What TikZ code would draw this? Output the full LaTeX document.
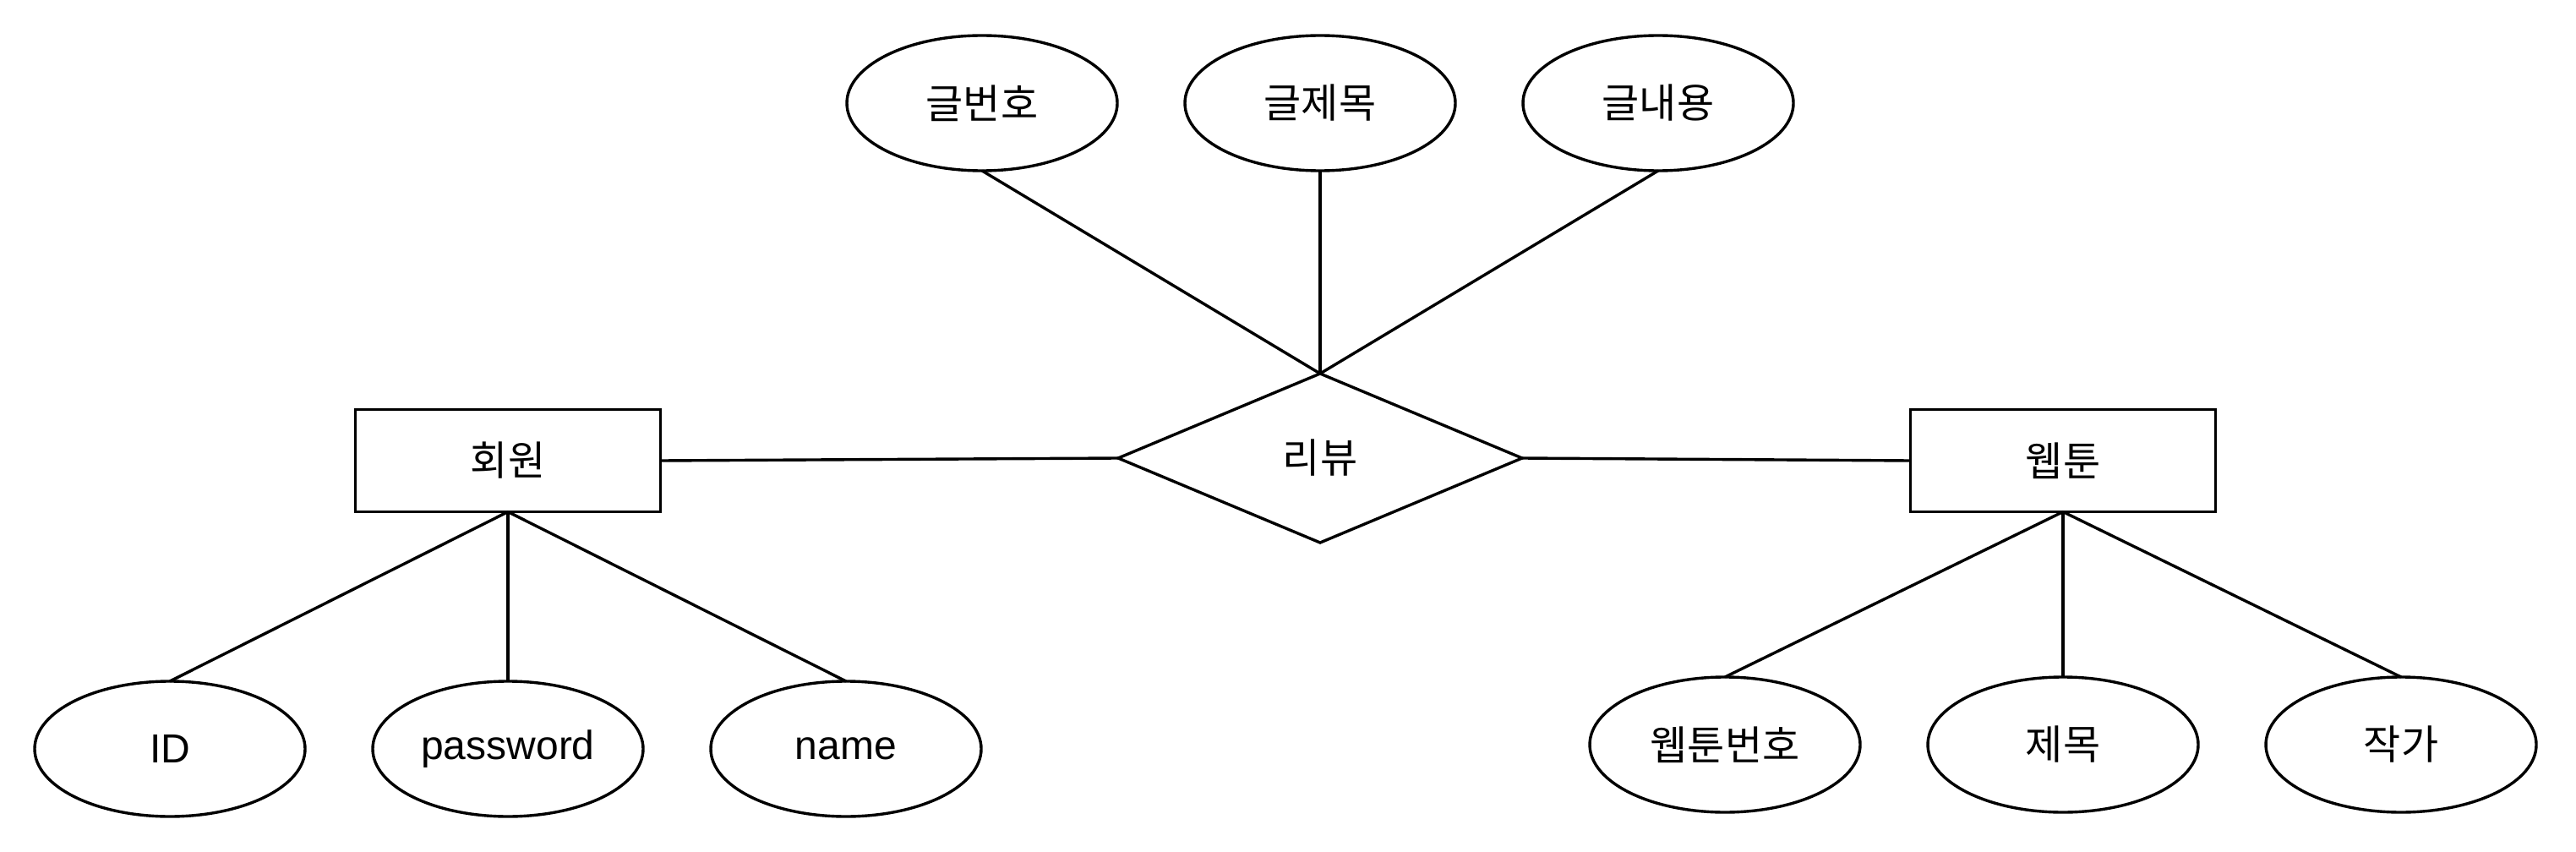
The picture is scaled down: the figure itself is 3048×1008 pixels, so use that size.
\documentclass[tikz,border=0pt]{standalone}
\usepackage{fontspec}
\setmainfont{Liberation Sans}
\newfontfamily\kr{Noto Sans CJK KR}
\usetikzlibrary{shapes.geometric}
\begin{document}
\begin{tikzpicture}[x=1pt,y=1pt,
  every node/.style={line width=3.4pt, draw=black, inner sep=0pt, outer sep=0pt},
  attr/.style={ellipse, minimum width=320pt, minimum height=160pt},
  entity/.style={rectangle, minimum width=361pt, minimum height=121pt},
  rel/.style={diamond, minimum width=478pt, minimum height=200pt},
  ko/.style={font=\kr\fontsize{48}{56}\selectfont},
  la/.style={font=\fontsize{48}{56}\selectfont},
  conn/.style={line width=3.4pt, draw=black}]
\useasboundingbox[fill=white] (0,0) rectangle (3048,-1008);
% relationship
\node[rel, ko] (rv) at (1562,-542) {리뷰};
% entities
\node[entity, ko] (mem) at (601,-545) {회원};
\node[entity, ko] (wt) at (2441,-545) {웹툰};
% review attributes
\node[attr, ko] (a1) at (1162,-122) {글번호};
\node[attr, ko] (a2) at (1562,-122) {글제목};
\node[attr, ko] (a3) at (1962,-122) {글내용};
% member attributes
\node[attr, la] (m1) at (201,-886) {ID};
\node[attr, la] (m2) at (601,-886) {password};
\node[attr, la] (m3) at (1001,-886) {name};
% webtoon attributes
\node[attr, ko] (w1) at (2041,-881) {웹툰번호};
\node[attr, ko] (w2) at (2441,-881) {제목};
\node[attr, ko] (w3) at (2841,-881) {작가};
% connectors
\draw[conn] (a1.south) -- (rv.north);
\draw[conn] (a2.south) -- (rv.north);
\draw[conn] (a3.south) -- (rv.north);
\draw[conn] (mem.east) -- (rv.west);
\draw[conn] (rv.east) -- (wt.west);
\draw[conn] (mem.south) -- (m1.north);
\draw[conn] (mem.south) -- (m2.north);
\draw[conn] (mem.south) -- (m3.north);
\draw[conn] (wt.south) -- (w1.north);
\draw[conn] (wt.south) -- (w2.north);
\draw[conn] (wt.south) -- (w3.north);
\end{tikzpicture}
\end{document}
